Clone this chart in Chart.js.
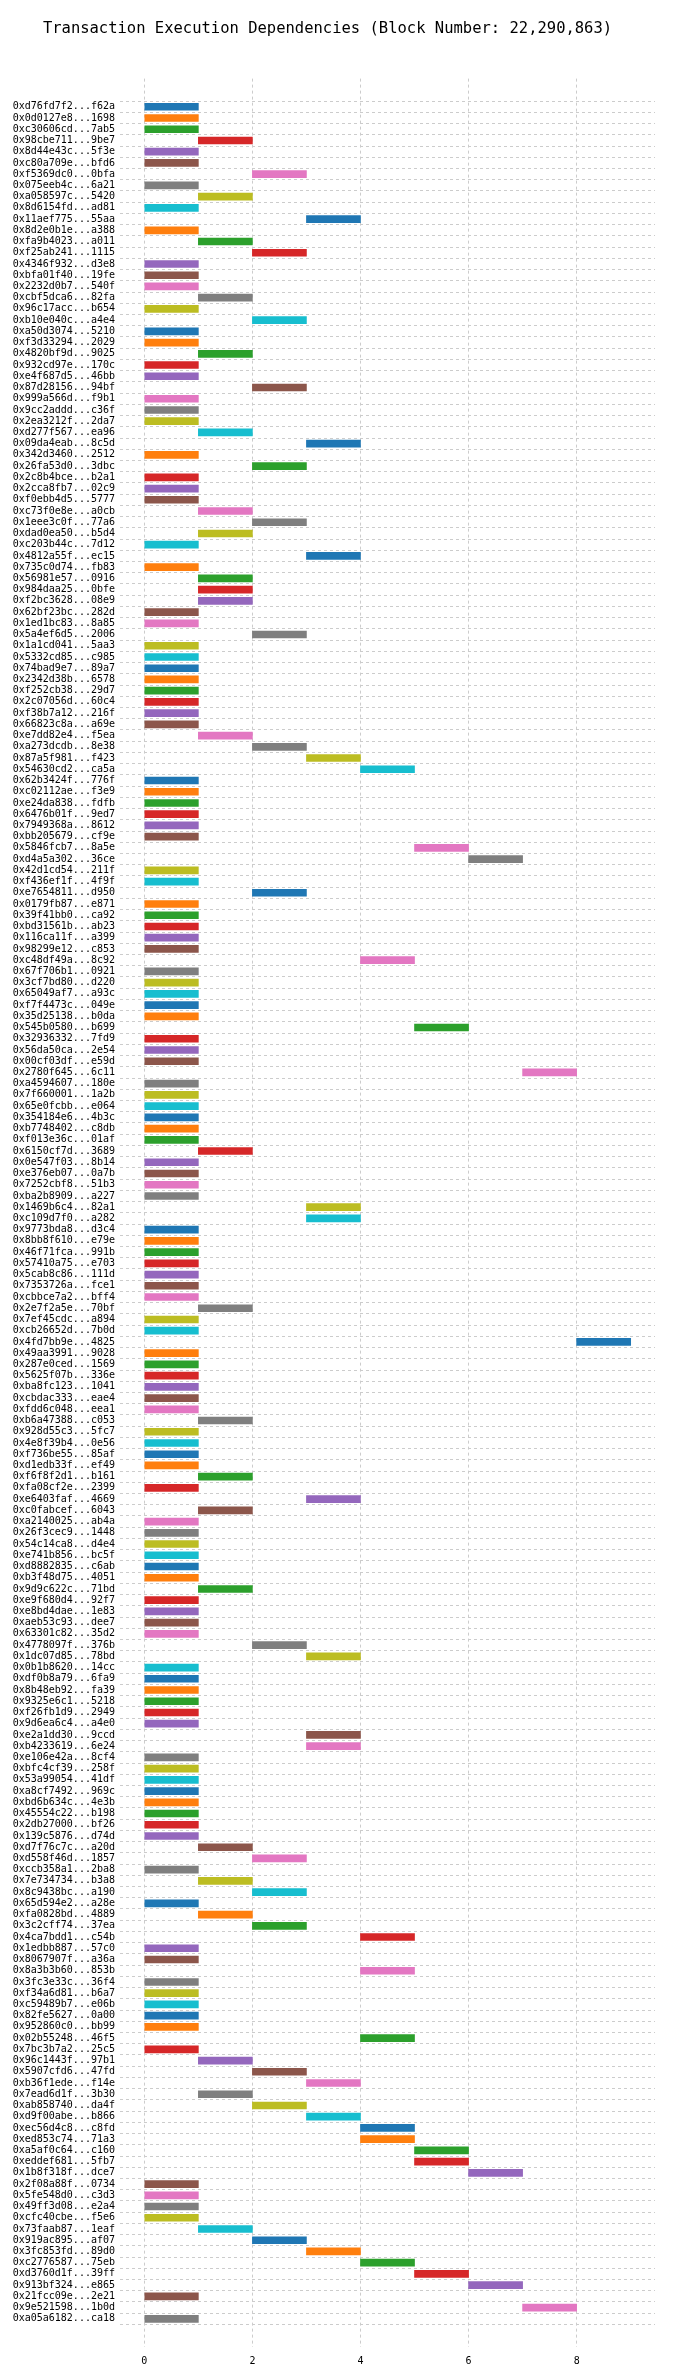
<!DOCTYPE html>
<html>
<head>
<meta charset="utf-8">
<script src="https://cdn.jsdelivr.net/npm/chart.js@4"></script>
<style>
  body { margin: 0; background: #fff; }
  #wrap { width: 700px; height: 2376px; }
</style>
</head>
<body>
<div id="wrap"><canvas id="depChart"></canvas></div>
<script>
const txLabels = [
"0xd76fd7f2...f62a","0x0d0127e8...1698","0xc30606cd...7ab5","0x98cbe711...9be7","0x8d44e43c...5f3e","0xc80a709e...bfd6","0xf5369dc0...0bfa","0x075eeb4c...6a21","0xa058597c...5420","0x8d6154fd...ad81",
"0x11aef775...55aa","0x8d2e0b1e...a388","0xfa9b4023...a011","0xf25ab241...1115","0x4346f932...d3e8","0xbfa01f40...19fe","0x2232d0b7...540f","0xcbf5dca6...82fa","0x96c17acc...b654","0xb10e040c...a4e4",
"0xa50d3074...5210","0xf3d33294...2029","0x4820bf9d...9025","0x932cd97e...170c","0xe4f687d5...46bb","0x87d28156...94bf","0x999a566d...f9b1","0x9cc2addd...c36f","0x2ea3212f...2da7","0xd277f567...ea96",
"0x09da4eab...8c5d","0x342d3460...2512","0x26fa53d0...3dbc","0x2c8b4bce...b2a1","0x2cca8fb7...02c9","0xf0ebb4d5...5777","0xc73f0e8e...a0cb","0x1eee3c0f...77a6","0xdad0ea50...b5d4","0xc203b44c...7d12",
"0x4812a55f...ec15","0x735c0d74...fb83","0x56981e57...0916","0x984daa25...0bfe","0xf2bc3628...08e9","0x62bf23bc...282d","0x1ed1bc83...8a85","0x5a4ef6d5...2006","0x1a1cd041...5aa3","0x5332cd85...c985",
"0x74bad9e7...89a7","0x2342d38b...6578","0xf252cb38...29d7","0x2c07056d...60c4","0xf38b7a12...216f","0x66823c8a...a69e","0xe7dd82e4...f5ea","0xa273dcdb...8e38","0x87a5f981...f423","0x54630cd2...ca5a",
"0x62b3424f...776f","0xc02112ae...f3e9","0xe24da838...fdfb","0x6476b01f...9ed7","0x7949368a...8612","0xbb205679...cf9e","0x5846fcb7...8a5e","0xd4a5a302...36ce","0x42d1cd54...211f","0xf436ef1f...4f9f",
"0xe7654811...d950","0x0179fb87...e871","0x39f41bb0...ca92","0xbd31561b...ab23","0x116ca11f...a399","0x98299e12...c853","0xc48df49a...8c92","0x67f706b1...0921","0x3cf7bd80...d220","0x65049af7...a93c",
"0xf7f4473c...049e","0x35d25138...b0da","0x545b0580...b699","0x32936332...7fd9","0x56da50ca...2e54","0x00cf03df...e59d","0x2780f645...6c11","0xa4594607...180e","0x7f660001...1a2b","0x65e0fcbb...e064",
"0x354184e6...4b3c","0xb7748402...c8db","0xf013e36c...01af","0x6150cf7d...3689","0x0e547f03...8b14","0xe376eb07...0a7b","0x7252cbf8...51b3","0xba2b8909...a227","0x1469b6c4...82a1","0xc109d7f0...a282",
"0x9773bda8...d3c4","0x8bb8f610...e79e","0x46f71fca...991b","0x57410a75...e703","0x5cab8c86...111d","0x7353726a...fce1","0xcbbce7a2...bff4","0x2e7f2a5e...70bf","0x7ef45cdc...a894","0xcb26652d...7b0d",
"0x4fd7bb9e...4825","0x49aa3991...9028","0x287e0ced...1569","0x5625f07b...336e","0xba8fc123...1041","0xcbdac333...eae4","0xfdd6c048...eea1","0xb6a47388...c053","0x928d55c3...5fc7","0x4e8f39b4...0e56",
"0xf736be55...85af","0xd1edb33f...ef49","0xf6f8f2d1...b161","0xfa08cf2e...2399","0xe6403faf...4669","0xc0fabcef...6043","0xa2140025...ab4a","0x26f3cec9...1448","0x54c14ca8...d4e4","0xe741b856...bc5f",
"0xd8882835...c6ab","0xb3f48d75...4051","0x9d9c622c...71bd","0xe9f680d4...92f7","0xe8bd4dae...1e83","0xaeb53c93...dee7","0x63301c82...35d2","0x4778097f...376b","0x1dc07d85...78bd","0x0b1b8620...14cc",
"0xdf0b8a79...6fa9","0x8b48eb92...fa39","0x9325e6c1...5218","0xf26fb1d9...2949","0x9d6ea6c4...a4e0","0xe2a1dd30...9ccd","0xb4233619...6e24","0xe106e42a...8cf4","0xbfc4cf39...258f","0x53a99054...41df",
"0xa8cf7492...969c","0xbd6b634c...4e3b","0x45554c22...b198","0x2db27000...bf26","0x139c5876...d74d","0xd7f76c7c...a20d","0xd558f46d...1857","0xccb358a1...2ba8","0x7e734734...b3a8","0x8c9438bc...a190",
"0x65d594e2...a28e","0xfa0828bd...4889","0x3c2cff74...37ea","0x4ca7bdd1...c54b","0x1edbb887...57c0","0x8067907f...a36a","0x8a3b3b60...853b","0x3fc3e33c...36f4","0xf34a6d81...b6a7","0xc59489b7...e06b",
"0x82fe5627...0a00","0x952860c0...bb99","0x02b55248...46f5","0x7bc3b7a2...25c5","0x96c1443f...97b1","0x5907cfd6...47fd","0xb36f1ede...f14e","0x7ead6d1f...3b30","0xab858740...da4f","0xd9f00abe...b866",
"0xec56d4c8...c8fd","0xed853c74...71a3","0xa5af0c64...c160","0xeddef681...5fb7","0x1b8f318f...dce7","0x2f08a88f...0734","0x5fe548d0...c3d3","0x49ff3d08...e2a4","0xcfc40cbe...f5e6","0x73faab87...1eaf",
"0x919ac895...af07","0x3fc853fd...89d0","0xc2776587...75eb","0xd3760d1f...39ff","0x913bf324...e865","0x21fcc09e...2e21","0x9e521598...1b0d","0xa05a6182...ca18"
];

// execution start step of each transaction (each runs for 1 step)
const startSteps = [
0,0,0,1,0,0,2,0,1,0,
3,0,1,2,0,0,0,1,0,2,
0,0,1,0,0,2,0,0,0,1,
3,0,2,0,0,0,1,2,1,0,
3,0,1,1,1,0,0,2,0,0,
0,0,0,0,0,0,1,2,3,4,
0,0,0,0,0,0,5,6,0,0,
2,0,0,0,0,0,4,0,0,0,
0,0,5,0,0,0,7,0,0,0,
0,0,0,1,0,0,0,0,3,3,
0,0,0,0,0,0,0,1,0,0,
8,0,0,0,0,0,0,1,0,0,
0,0,1,0,3,1,0,0,0,0,
0,0,1,0,0,0,0,2,3,0,
0,0,0,0,0,3,3,0,0,0,
0,0,0,0,0,1,2,0,1,2,
0,1,2,4,0,0,4,0,0,0,
0,0,4,0,1,2,3,1,2,3,
4,4,5,5,6,0,0,0,0,1,
2,3,4,5,6,0,7,0
];

const stepDuration = 1;
const xTicks = [0, 2, 4, 6, 8];

const tab10 = ["#1f77b4","#ff7f0e","#2ca02c","#d62728","#9467bd","#8c564b","#e377c2","#7f7f7f","#bcbd22","#17becf"];

const barData = [];
const barColors = [];
for (let i = 0; i < txLabels.length; i++) {
  barData.push({ x: [startSteps[i], startSteps[i] + stepDuration], y: i });
  barColors.push(tab10[i % 10]);
}

const monoFont = "'DejaVu Sans Mono', monospace";
const lastRow = txLabels.length - 1;

new Chart("depChart", {
  type: "bar",
  data: {
    datasets: [{
      data: barData,
      backgroundColor: barColors,
      borderWidth: 0,
      barThickness: 7,
      borderSkipped: false
    }]
  },
  options: {
    indexAxis: "y",
    responsive: true,
    maintainAspectRatio: false,
    animation: false,
    layout: { padding: { top: 20, right: 45, left: 0, bottom: 0 } },
    plugins: {
      legend: { display: false },
      tooltip: { enabled: false },
      title: {
        display: true,
        text: "Transaction Execution Dependencies (Block Number: 22,290,863)",
        color: "#000",
        font: { family: monoFont, size: 15.5, weight: "normal" },
        padding: { top: 0, bottom: 40 }
      }
    },
    scales: {
      x: {
        type: "linear",
        min: -0.45,
        max: 9.45,
        afterBuildTicks: (axis) => { axis.ticks = xTicks.map(v => ({ value: v })); },
        afterFit: (axis) => { axis.height = 29; },
        border: { display: false },
        grid: {
          color: "#cccccc",
          lineWidth: 1,
          drawTicks: false
        },
        border: { display: false, dash: [3, 3] },
        ticks: { color: "#000", font: { family: monoFont, size: 10 }, padding: 8 }
      },
      y: {
        type: "linear",
        reverse: true,
        min: -2,
        max: lastRow + 2,
        afterBuildTicks: (axis) => {
          const t = [];
          for (let i = 0; i <= lastRow; i++) t.push({ value: i });
          axis.ticks = t;
        },
        afterFit: (axis) => { axis.width = 120; },
        grid: { color: "#cccccc", lineWidth: 1, drawTicks: false },
        border: { display: false, dash: [3, 3] },
        ticks: {
          autoSkip: false,
          color: "#000",
          font: { family: monoFont, size: 10 },
          padding: 5,
          callback: (v) => txLabels[v] || ""
        }
      }
    }
  }
});
</script>
</body>
</html>
